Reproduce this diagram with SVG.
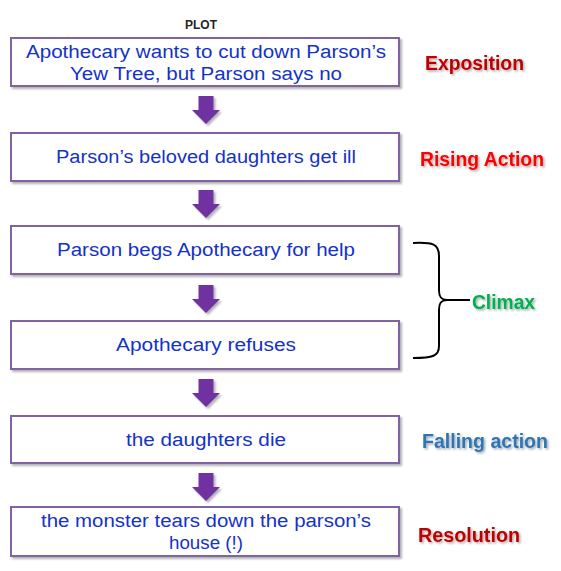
<svg xmlns="http://www.w3.org/2000/svg" width="561" height="571" viewBox="0 0 561 571">
<defs>
<style>
.box{fill:#fff;stroke:#8064a2;stroke-width:2;filter:url(#bshadow)}
.bt{font-family:"Liberation Sans",Arial,sans-serif;font-size:18px;fill:#1432c8;text-anchor:middle}
.lbl{font-family:"Liberation Sans",Arial,sans-serif;font-size:19.5px;font-weight:bold;filter:url(#tshadow)}
.arr{fill:#7030a0;filter:url(#bshadow)}
</style>
<filter id="bshadow" x="-10%" y="-10%" width="130%" height="140%">
<feDropShadow dx="2" dy="2" stdDeviation="1.2" flood-color="#000" flood-opacity="0.3"/>
</filter>
<filter id="tshadow" x="-10%" y="-20%" width="130%" height="160%">
<feDropShadow dx="1.5" dy="1.5" stdDeviation="0.8" flood-color="#000" flood-opacity="0.35"/>
</filter>
<path id="arrow" d="M-7.5,0 H7.5 V14 H14 L0,28 L-14,14 H-7.5 Z"/>
</defs>
<rect width="561" height="571" fill="#fff"/>
<text x="201" y="29" font-family="'Liberation Sans',Arial,sans-serif" font-size="12" font-weight="bold" fill="#262626" text-anchor="middle">PLOT</text>

<g id="connectors">
<use href="#arrow" class="arr" x="206" y="96"/>
<use href="#arrow" class="arr" x="206" y="190"/>
<use href="#arrow" class="arr" x="206" y="285"/>
<use href="#arrow" class="arr" x="206" y="379"/>
<use href="#arrow" class="arr" x="206" y="473"/>
<path d="M413,243 C433,242 439,244 439,256 V290 C439,297 441,300 447,300 C441,300 439,303 439,310 V346 C439,356 433,358 413,358 M447,300 H470" fill="none" stroke="#000" stroke-width="2"/>
</g>

<g id="n1">
<rect class="box" x="11" y="38" width="388" height="48"/>
<text class="bt" x="206" y="58" textLength="360" lengthAdjust="spacingAndGlyphs">Apothecary wants to cut down Parson’s</text>
<text class="bt" x="206" y="80" textLength="272" lengthAdjust="spacingAndGlyphs">Yew Tree, but Parson says no</text>
</g>
<g id="n2">
<rect class="box" x="11" y="133" width="388" height="48"/>
<text class="bt" x="206" y="163" textLength="300" lengthAdjust="spacingAndGlyphs">Parson’s beloved daughters get ill</text>
</g>
<g id="n3">
<rect class="box" x="11" y="226" width="388" height="48"/>
<text class="bt" x="206" y="256" textLength="298" lengthAdjust="spacingAndGlyphs">Parson begs Apothecary for help</text>
</g>
<g id="n4">
<rect class="box" x="11" y="321" width="388" height="48"/>
<text class="bt" x="206" y="351" textLength="180" lengthAdjust="spacingAndGlyphs">Apothecary refuses</text>
</g>
<g id="n5">
<rect class="box" x="11" y="416" width="388" height="47"/>
<text class="bt" x="206" y="446" textLength="160" lengthAdjust="spacingAndGlyphs">the daughters die</text>
</g>
<g id="n6">
<rect class="box" x="11" y="507" width="388" height="49"/>
<text class="bt" x="206" y="527" textLength="330" lengthAdjust="spacingAndGlyphs">the monster tears down the parson’s</text>
<text class="bt" x="206" y="549" textLength="74" lengthAdjust="spacingAndGlyphs">house (!)</text>
</g>

<g id="labels">
<text class="lbl" x="425" y="70" fill="#c00000" textLength="99" lengthAdjust="spacingAndGlyphs">Exposition</text>
<text class="lbl" x="420" y="166" fill="#ff0000" textLength="124" lengthAdjust="spacingAndGlyphs">Rising Action</text>
<text class="lbl" x="472" y="309" fill="#00b050" textLength="63" lengthAdjust="spacingAndGlyphs">Climax</text>
<text class="lbl" x="422" y="448" fill="#2e75b6" textLength="126" lengthAdjust="spacingAndGlyphs">Falling action</text>
<text class="lbl" x="418" y="542" fill="#c00000" textLength="102" lengthAdjust="spacingAndGlyphs">Resolution</text>
</g>
</svg>
